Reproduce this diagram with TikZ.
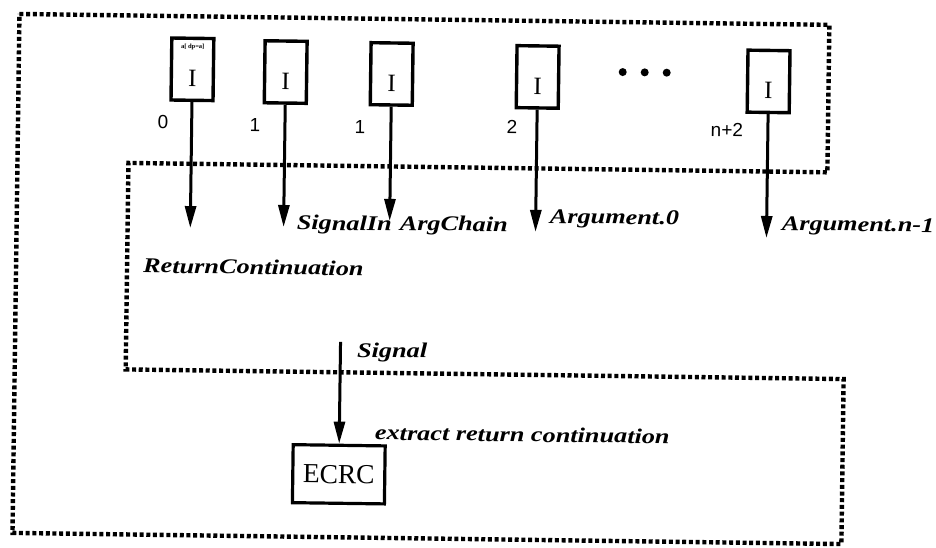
\documentclass[tikz,border=0pt]{standalone}
\usepackage{fontspec}
\setmainfont{Liberation Serif}
\newfontfamily\labfont[FakeStretch=1.25]{Liberation Serif}
\newfontfamily\numfont{Liberation Sans}
\usetikzlibrary{arrows.meta}
\tikzset{
  ibox/.style={draw, line width=3.4pt, minimum width=42pt, minimum height=62pt, inner sep=0pt},
  itext/.style={font=\fontsize{25}{25}\selectfont, inner sep=0pt},
  tinytext/.style={font=\fontsize{6.5}{6.5}\selectfont\bfseries, inner sep=0pt},
  num/.style={font=\numfont\fontsize{19}{19}\selectfont, inner sep=0pt},
  lab/.style={font=\labfont\bfseries\itshape\fontsize{21}{21}\selectfont, inner sep=0pt, anchor=base west},
  ebox/.style={draw, line width=3.2pt, minimum width=92pt, minimum height=58pt, inner sep=0pt, font=\fontsize{27.5}{27.5}\selectfont},
  arr/.style={line width=3pt, -{Triangle[length=22pt,width=11pt]}},
  dotline/.style={line width=4.4pt, dash pattern=on 4pt off 2.7pt},
}
\begin{document}
\begin{tikzpicture}[x=1pt,y=-1pt]
\useasboundingbox (0,0) rectangle (936,547);
\begin{scope}[rotate around={-0.77:(468,273)}, transform shape]
  % dotted outline
  \draw[dotline] (16,20) -- (826,20) -- (826,167.5) -- (127,167.5) -- (127,374)
     -- (845,374) -- (845,539) -- (16,539) -- cycle;

  % boxes
  \node[ibox] (b0) at (189.7,73) {};
  \node[ibox] (b1) at (283,74.5) {};
  \node[ibox] (b2) at (389,75) {};
  \node[ibox] (b3) at (535,76) {};
  \node[ibox] (b4) at (766,77.4) {};
  \node[itext] (i0) at (189.7,82) {I};
  \node[itext] (i1) at (283,83.5) {I};
  \node[itext] (i2) at (389,84) {I};
  \node[itext] (i3) at (535,85) {I};
  \node[itext] (i4) at (766,86.4) {I};
  \node[tinytext] (tt) at (189.7,51) {a[ dp=a]};

  % ellipsis dots
  \fill (620,70) circle (4);
  \fill (642,70) circle (4);
  \fill (664,70) circle (4);

  % numbers
  \node[num] (n0) at (161,126) {0};
  \node[num] (n1) at (253,128) {1};
  \node[num] (n2) at (358,128.5) {1};
  \node[num] (n3) at (510,126.5) {2};
  \node[num] (n4) at (725,126.5) {n+2};

  % arrow tips
  \coordinate (t0) at (189.7,231.8);
  \coordinate (t1) at (283,229.5);
  \coordinate (t2) at (389,222);
  \coordinate (t3) at (535,231);
  \coordinate (t4) at (766,234);
  \draw[arr] (b0.south) -- (t0);
  \draw[arr] (b1.south) -- (t1);
  \draw[arr] (b2.south) -- (t2);
  \draw[arr] (b3.south) -- (t3);
  \draw[arr] (b4.south) -- (t4);

  % labels
  \node[lab] (lsi) at (296,232) {SignalIn};
  \node[lab] (lac) at (399,231) {ArgChain};
  \node[lab] (la0) at (549,222) {Argument.0};
  \node[lab] (lan) at (781,226) {Argument.n-1};
  \node[lab] (lrc) at (143,277) {ReturnContinuation};
  \node[lab] (lsg) at (358,358.5) {Signal};
  \node[lab] (lex) at (377,441) {extract return continuation};

  % ECRC
  \node[ebox] (ecrc) at (341.5,476) {ECRC};
  \coordinate (s0) at (341.5,343.7);
  \draw[arr] (s0) -- (ecrc.north);
\end{scope}
\end{tikzpicture}
\end{document}
